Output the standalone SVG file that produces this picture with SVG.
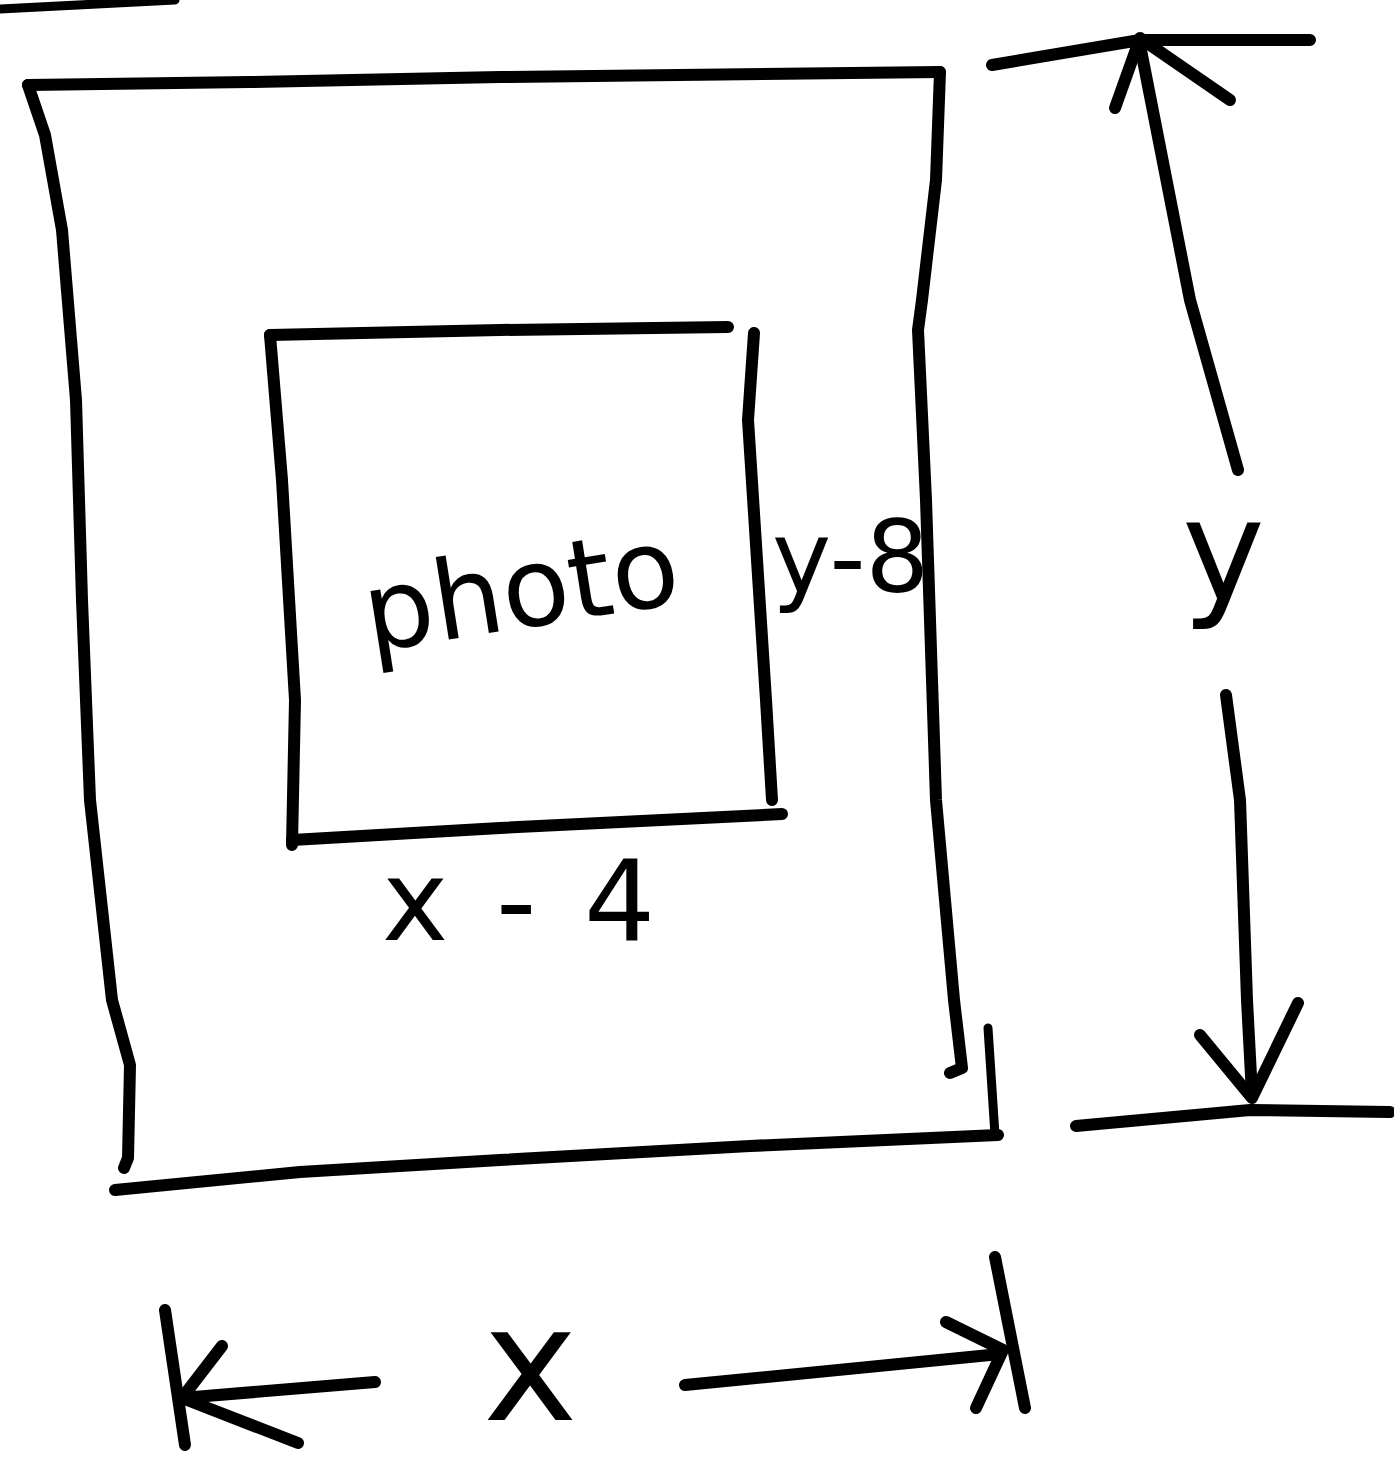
<svg xmlns="http://www.w3.org/2000/svg" width="1394" height="1461" viewBox="0 0 1394 1461">
<style>
.ink{fill:none;stroke:#000;stroke-width:12;stroke-linecap:round;stroke-linejoin:round}
.thin{fill:none;stroke:#000;stroke-width:9;stroke-linecap:round;stroke-linejoin:round}
.lbl{font-family:"DejaVu Sans","Liberation Sans",sans-serif;fill:#000}
</style>
<rect width="1394" height="1461" fill="#fff"/>
<g id="edge-mark">
<path class="thin" d="M0,9 L175,0"/>
</g>
<g id="outer-frame">
<path class="ink" d="M28,85 L250,82 L500,77 L940,72"/>
<path class="ink" d="M28,85 L45,135 L62,230 L76,400 L82,600 L90,800 L112,1000 L130,1065 L128,1158 L124,1168"/>
<path class="ink" d="M940,72 L936,180 L922,300 L918,330 L926,500 L936,800 L954,1000 L962,1068 L950,1073"/>
<path class="ink" d="M115,1190 L300,1172 L500,1160 L750,1146 L998,1135"/>
<path class="thin" d="M988,1028 L995,1135"/>
</g>
<g id="photo">
<path class="ink" d="M270,335 L500,330 L728,327"/>
<path class="ink" d="M270,335 L282,480 L295,700 L292,845"/>
<path class="ink" d="M754,333 L748,420 L766,700 L772,800"/>
<path class="ink" d="M292,840 L500,828 L782,814"/>
<text class="lbl" font-size="110" transform="translate(370,652) rotate(-9)">photo</text>
</g>
<g id="label-y-8">
<text class="lbl" font-size="100" x="772" y="592">y-8</text>
</g>
<g id="label-x-4">
<text class="lbl" font-size="112" x="382" y="940" letter-spacing="6">x - 4</text>
</g>
<g id="connectors">
<g id="dim-y">
<path class="ink" d="M992,65 L1140,40 L1310,40"/>
<path class="ink" d="M1115,108 L1140,38 L1230,100"/>
<path class="ink" d="M1140,45 L1190,300 L1238,470"/>
<path class="ink" d="M1226,695 L1240,800 L1247,1000 L1252,1095"/>
<path class="ink" d="M1200,1035 L1252,1098 L1298,1003"/>
<path class="ink" d="M1076,1126 L1250,1110 L1390,1112"/>
</g>
<g id="dim-x">
<path class="ink" d="M165,1310 L185,1445"/>
<path class="ink" d="M222,1346 L182,1398 L298,1443"/>
<path class="ink" d="M182,1398 L375,1382"/>
<path class="ink" d="M685,1385 L1000,1354"/>
<path class="ink" d="M946,1322 L1003,1350 L976,1408"/>
<path class="ink" d="M995,1257 L1025,1408"/>
</g>
</g>
<g id="label-y">
<text class="lbl" font-size="140" x="1182" y="600">y</text>
</g>
<g id="label-x">
<text class="lbl" font-size="160" x="483" y="1420">x</text>
</g>
</svg>
